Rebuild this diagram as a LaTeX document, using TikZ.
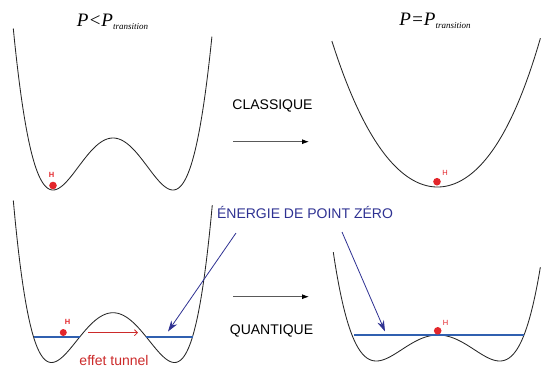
\documentclass[tikz,border=0pt]{standalone}
\usepackage{fontspec}
\setmainfont{Liberation Sans}
\newfontfamily\titlefont{Liberation Serif}
\usetikzlibrary{arrows.meta}
\definecolor{hred}{HTML}{E3262B}
\definecolor{tred}{HTML}{CC2A2A}
\definecolor{navy}{HTML}{2E3192}
\definecolor{zblue}{HTML}{3060B0}
\tikzset{
  curve/.style={draw=black!85, line width=0.85pt},
  hdot/.style={circle, fill=hred, draw=none, minimum size=7.6pt, inner sep=0pt},
  hlab/.style={text=hred, font=\fontsize{7.5}{7.5}\selectfont\bfseries, anchor=base, inner sep=0pt},
  biglab/.style={font=\fontsize{14}{14}\selectfont, anchor=base, inner sep=0pt},
  midarrow/.style={draw=black!65, line width=0.8pt, -{Latex[length=7pt,width=5pt,black]}},
  navyarrow/.style={draw=navy, line width=0.8pt, -{Stealth[length=11pt,width=7pt]}},
  zpeline/.style={draw=zblue, line width=1.5pt},
  titl/.style={anchor=base, inner sep=0pt, font=\titlefont\itshape\fontsize{19}{19}\selectfont}
}
\begin{document}
\begin{tikzpicture}[x=1pt,y=-1pt]
\useasboundingbox (0,0) rectangle (541,367);
% titles
\node[titl] (t1) at (112.5,26) {P<P\raisebox{-3pt}{\fontsize{9}{9}\selectfont transition}};
\node[titl] (t2) at (435,25) {P=P\raisebox{-3pt}{\fontsize{9}{9}\selectfont transition}};
% top-left double well
\draw[curve] plot[domain=-1.662:1.65, samples=150, smooth]
  ({113+60*\x},{190-52*((\x*\x-1)*(\x*\x-1))});
% top-right single well
\draw[curve] plot[domain=-1.056:1.03, samples=150, smooth]
  ({437.5+100*\x},{187-113*\x*\x-(\x<0 ? 16 : 26)*\x*\x*\x*\x});
% bottom-left double well
\draw[curve] plot[domain=-1.621:1.615, samples=150, smooth]
  ({113+61.5*\x},{362.5-54.1*((\x*\x-1)*(\x*\x-1))*(1+0.08*(\x*\x-1))});
% bottom-right double well
\draw[curve] plot[domain=-1.697:1.661, samples=150, smooth]
  ({438+61.7*\x},{361-27.66*((\x*\x-1)*(\x*\x-1))*(1+0.06*(\x*\x-1))});
% zero point energy lines
\coordinate (bl1) at (33.5,337.3);
\coordinate (bl2) at (80,337.3);
\coordinate (bl3) at (145.5,337.3);
\coordinate (bl4) at (192.6,337.3);
\draw[zpeline, line width=1.7pt] (bl1) -- (bl2);
\draw[zpeline, line width=1.7pt] (bl3) -- (bl4);
\coordinate (br1) at (354,335);
\coordinate (br2) at (523.5,335);
\draw[zpeline, line width=1.3pt] (br1) -- (br2);
% tunnel arrow
\coordinate (ta) at (88,332.7);
\coordinate (tb) at (138,332.7);
\draw[draw=tred, line width=0.8pt, -{Straight Barb[length=3pt,width=6pt]}] (ta) -- (tb);
% H particles
\node[hdot] (d1) at (53,185.5) {};
\node[hlab] (h1) at (51.7,177) {H};
\node[hdot] (d2) at (437,181.7) {};
\node[hlab, font=\fontsize{7.5}{7.5}\selectfont] (h2) at (445,175.5) {H};
\node[hdot, minimum size=7pt] (d3) at (63.3,332.5) {};
\node[hlab] (h3) at (67.7,324.5) {H};
\node[hdot] (d4) at (437.7,330.8) {};
\node[hlab, font=\fontsize{7.5}{7.5}\selectfont] (h4) at (445.7,325.5) {H};
% middle labels and arrows
\node[biglab] (classique) at (272.5,109.3) {CLASSIQUE};
\coordinate (a1s) at (233,141.7);
\coordinate (a1e) at (309,141.7);
\draw[midarrow] (a1s) -- (a1e);
\coordinate (a2s) at (233,296.7);
\coordinate (a2e) at (309,296.7);
\draw[midarrow] (a2s) -- (a2e);
\node[biglab] (quantique) at (271.5,334) {QUANTIQUE};
\node[biglab, text=navy] (zpe) at (305,218.3) {ÉNERGIE DE POINT ZÉRO};
\node[biglab, text=tred] (tunnel) at (114,365) {effet tunnel};
% pointers from the label
\coordinate (z1s) at (236,233);
\coordinate (z1e) at (168,331.5);
\coordinate (z2s) at (342,232);
\coordinate (z2e) at (385,331.5);
\draw[navyarrow] (z1s) -- (z1e);
\draw[navyarrow] (z2s) -- (z2e);
\end{tikzpicture}
\end{document}
